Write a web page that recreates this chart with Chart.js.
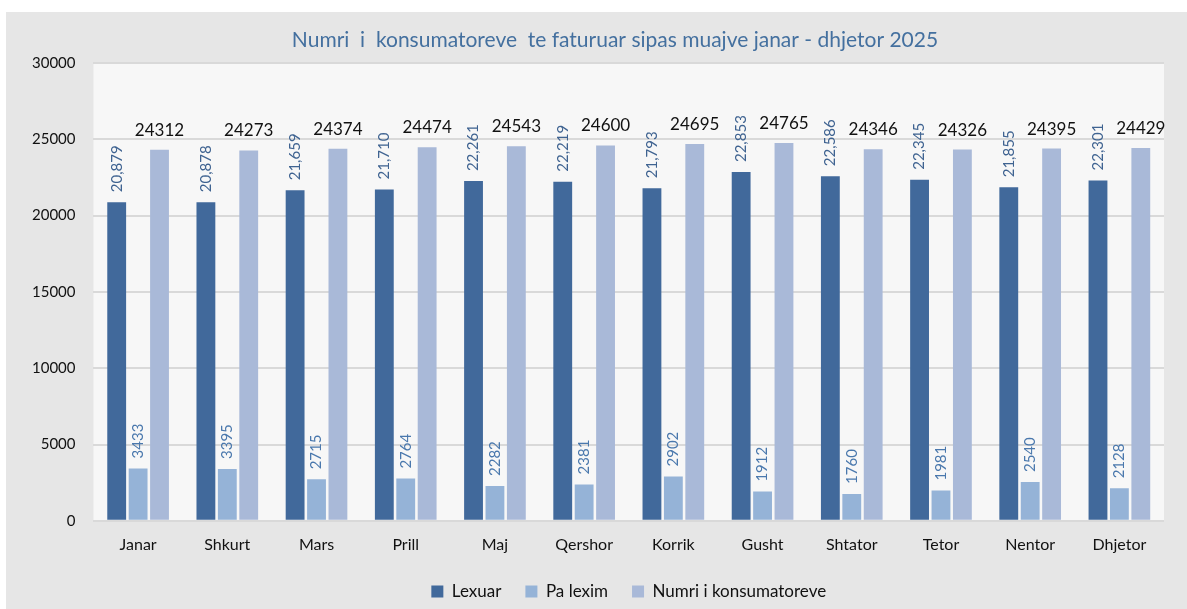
<!DOCTYPE html>
<html lang="sq">
<head>
<meta charset="UTF-8">
<title>Numri i konsumatoreve te faturuar 2025</title>
<script src="https://cdn.jsdelivr.net/npm/chart.js"></script>
<style>
  html, body { margin: 0; padding: 0; background: #fff; }
  #wrap { width: 1187px; height: 609px; }
</style>
</head>
<body>
<div id="wrap"><canvas id="chart" width="1187" height="609"></canvas></div>
<script>
// monthly data, 2025
const months = ['Janar', 'Shkurt', 'Mars', 'Prill', 'Maj', 'Qershor', 'Korrik', 'Gusht', 'Shtator', 'Tetor', 'Nentor', 'Dhjetor'];
const lexuar = [20879, 20878, 21659, 21710, 22261, 22219, 21793, 22853, 22586, 22345, 21855, 22301];
const paLexim = [3433, 3395, 2715, 2764, 2282, 2381, 2902, 1912, 1760, 1981, 2540, 2128];
const numriKonsumatoreve = [24312, 24273, 24374, 24474, 24543, 24600, 24695, 24765, 24346, 24326, 24395, 24429];
const yTicks = [0, 5000, 10000, 15000, 20000, 25000, 30000];

const FONT = 'Lato, "Open Sans", sans-serif';
const TITLE = 'Numri  i  konsumatoreve  te faturuar sipas muajve janar - dhjetor 2025';

// grey panel, lighter plot area and the title
const backgrounds = {
  id: 'backgrounds',
  afterLayout(chart) {
    // centre the legend under the plot area instead of the whole canvas
    const lg = chart.legend;
    const a = chart.chartArea;
    const dx = (a.left + a.right) / 2 - (lg.left + lg.right) / 2;
    lg.left += dx;
    lg.right += dx;
    lg.top -= 9;
    lg.bottom -= 9;
  },
  beforeDraw(chart) {
    const ctx = chart.ctx;
    const a = chart.chartArea;
    ctx.save();
    ctx.fillStyle = '#ffffff';
    ctx.fillRect(0, 0, chart.width, chart.height);
    ctx.fillStyle = '#e6e6e6';
    ctx.fillRect(6, 12, chart.width - 6, chart.height - 12);
    ctx.fillStyle = '#f7f7f7';
    ctx.fillRect(a.left, a.top, a.right - a.left, a.bottom - a.top);
    ctx.font = '21px ' + FONT;
    ctx.fillStyle = '#44709f';
    ctx.textAlign = 'center';
    ctx.textBaseline = 'middle';
    ctx.fillText(TITLE, 615, 40);
    ctx.restore();
  }
};

// value labels above the bars
const valueLabels = {
  id: 'valueLabels',
  afterDatasetsDraw(chart) {
    const ctx = chart.ctx;
    ctx.save();
    chart.data.datasets.forEach((ds, i) => {
      const meta = chart.getDatasetMeta(i);
      meta.data.forEach((bar, j) => {
        const v = ds.data[j];
        if (i === 2) {
          ctx.font = '17px ' + FONT;
          ctx.fillStyle = '#111111';
          ctx.textAlign = 'center';
          ctx.textBaseline = 'alphabetic';
          ctx.fillText(String(v), bar.x, bar.y - 14);
        } else {
          const txt = i === 0 ? v.toLocaleString('en-US') : String(v);
          ctx.font = '15px ' + FONT;
          ctx.fillStyle = i === 0 ? '#3f6391' : '#4a78ad';
          ctx.translate(bar.x, bar.y - 10);
          ctx.rotate(-Math.PI / 2);
          ctx.textAlign = 'left';
          ctx.textBaseline = 'middle';
          ctx.fillText(txt, 0, 0);
          ctx.setTransform(1, 0, 0, 1, 0, 0);
        }
      });
    });
    ctx.restore();
  }
};

new Chart(document.getElementById('chart'), {
  type: 'bar',
  data: {
    labels: months,
    datasets: [
      { label: 'Lexuar', data: lexuar, backgroundColor: '#41699b' },
      { label: 'Pa lexim', data: paLexim, backgroundColor: '#95b3d7' },
      { label: 'Numri i konsumatoreve', data: numriKonsumatoreve, backgroundColor: '#a9b9d8' }
    ]
  },
  options: {
    responsive: false,
    animation: false,
    layout: { padding: { left: 14, right: 23, top: 63, bottom: -10 } },
    datasets: {
      bar: { categoryPercentage: 0.72, barPercentage: 0.88 }
    },
    scales: {
      x: {
        grid: { display: false, drawTicks: false },
        border: { display: false },
        ticks: { color: '#111', font: { family: FONT, size: 16 }, padding: 14 }
      },
      y: {
        min: 0,
        max: 30000,
        afterBuildTicks(axis) { axis.ticks = yTicks.map(v => ({ value: v })); },
        grid: { color: '#d9d9d9', lineWidth: 2, drawTicks: false },
        border: { display: false },
        ticks: {
          color: '#111',
          font: { family: FONT, size: 15 },
          padding: 18,
          callback: v => String(v)
        }
      }
    },
    plugins: {
      title: { display: false },
      legend: {
        position: 'bottom',
        labels: {
          color: '#111',
          font: { family: FONT, size: 17 },
          boxWidth: 12,
          boxHeight: 12,
          padding: 24
        }
      },
      tooltip: { enabled: false }
    }
  },
  plugins: [backgrounds, valueLabels]
});
</script>
</body>
</html>
